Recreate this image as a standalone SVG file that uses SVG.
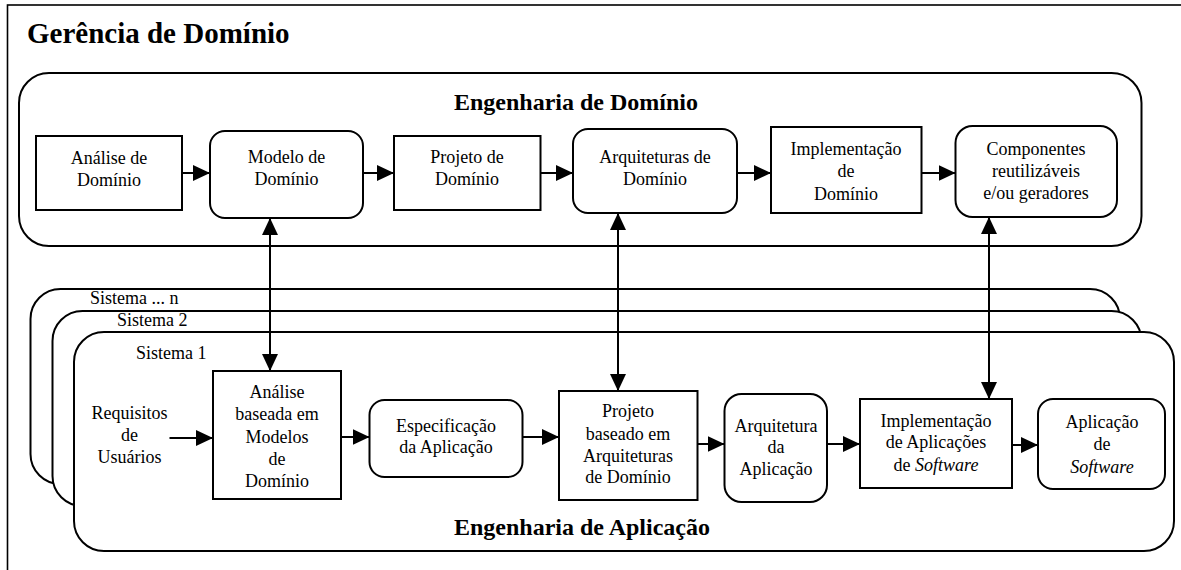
<svg xmlns="http://www.w3.org/2000/svg" width="1181" height="570" viewBox="0 0 1181 570" font-family="Liberation Serif, Times New Roman, serif">
<defs>
<marker id="ah" markerUnits="userSpaceOnUse" markerWidth="17" markerHeight="16" refX="17" refY="8" orient="auto-start-reverse" viewBox="0 0 17 16">
<path d="M0,0 L17,8 L0,16 z" fill="#000"/>
</marker>
<style>
.box{fill:#fff;stroke:#000;stroke-width:2}
.frame{fill:#fff;stroke:#000;stroke-width:1.6}
text{font-family:'Liberation Serif','Times New Roman',serif}
.t{font-size:18px;fill:#000;text-anchor:middle}
.tl{font-size:18px;fill:#000}
.h{font-weight:bold;font-size:24px;fill:#000;text-anchor:middle}
.title{font-weight:bold;font-size:29px;fill:#000}
.c{stroke:#000;stroke-width:2;fill:none;marker-end:url(#ah)}
.cc{stroke:#000;stroke-width:2;fill:none;marker-end:url(#ah);marker-start:url(#ah)}
</style>
</defs>
<rect x="0" y="0" width="1181" height="570" fill="#fff"/>
<g id="gerencia">
<rect class="frame" x="7.5" y="5" width="1185" height="580"/>
<text class="title" x="27" y="43">Gerência de Domínio</text>
</g>
<g id="engenharia-dominio">
<rect class="box" x="19" y="73" width="1122.5" height="173" rx="30" ry="30"/>
<text class="h" x="576" y="110">Engenharia de Domínio</text>
</g>
<g id="analise-dominio">
<rect class="box" x="36" y="136" width="146" height="74"/>
<text class="t" x="109" y="164">Análise de</text>
<text class="t" x="109" y="186">Domínio</text>
</g>
<g id="modelo-dominio">
<rect class="box" x="210" y="131" width="153" height="87" rx="15" ry="15"/>
<text class="t" x="286.5" y="163">Modelo de</text>
<text class="t" x="286.5" y="185">Domínio</text>
</g>
<g id="projeto-dominio">
<rect class="box" x="394" y="136" width="146.5" height="74"/>
<text class="t" x="467" y="163">Projeto de</text>
<text class="t" x="467" y="185">Domínio</text>
</g>
<g id="arquiteturas-dominio">
<rect class="box" x="573" y="129" width="164" height="84" rx="15" ry="15"/>
<text class="t" x="655" y="163">Arquiteturas de</text>
<text class="t" x="655" y="185">Domínio</text>
</g>
<g id="implementacao-dominio">
<rect class="box" x="771" y="127" width="150.5" height="86"/>
<text class="t" x="846" y="155">Implementação</text>
<text class="t" x="846" y="177">de</text>
<text class="t" x="846" y="200">Domínio</text>
</g>
<g id="componentes">
<rect class="box" x="955.5" y="126" width="161.5" height="91" rx="17" ry="17"/>
<text class="t" x="1036" y="155">Componentes</text>
<text class="t" x="1036" y="177">reutilizáveis</text>
<text class="t" x="1036" y="199">e/ou geradores</text>
</g>
<g id="sistema-n">
<rect class="box" x="30.5" y="289" width="1089.5" height="195" rx="30" ry="30"/>
<text class="tl" x="90" y="304">Sistema ... n</text>
</g>
<g id="sistema-2">
<rect class="box" x="52.5" y="311" width="1089" height="195" rx="30" ry="30"/>
<text class="tl" x="117" y="326">Sistema 2</text>
</g>
<g id="sistema-1">
<rect class="box" x="74" y="332" width="1100" height="219" rx="30" ry="30"/>
<text class="tl" x="136" y="359">Sistema 1</text>
<text class="h" x="582" y="535">Engenharia de Aplicação</text>
</g>
<g id="requisitos">
<text class="t" x="129.5" y="419">Requisitos</text>
<text class="t" x="129.5" y="441">de</text>
<text class="t" x="129.5" y="463">Usuários</text>
</g>
<g id="analise-baseada">
<rect class="box" x="213" y="371" width="128" height="128"/>
<text class="t" x="277" y="398">Análise</text>
<text class="t" x="277" y="420">baseada em</text>
<text class="t" x="277" y="443">Modelos</text>
<text class="t" x="277" y="465">de</text>
<text class="t" x="277" y="487">Domínio</text>
</g>
<g id="especificacao">
<rect class="box" x="369.5" y="400" width="153" height="77" rx="15" ry="15"/>
<text class="t" x="446" y="432">Especificação</text>
<text class="t" x="446" y="453">da Aplicação</text>
</g>
<g id="projeto-baseado">
<rect class="box" x="559" y="391" width="138.5" height="109"/>
<text class="t" x="628" y="417">Projeto</text>
<text class="t" x="628" y="440">baseado em</text>
<text class="t" x="628" y="462">Arquiteturas</text>
<text class="t" x="628" y="483">de Domínio</text>
</g>
<g id="arquitetura-aplicacao">
<rect class="box" x="724.5" y="394" width="102.5" height="108" rx="17" ry="17"/>
<text class="t" x="776" y="432">Arquitetura</text>
<text class="t" x="776" y="453">da</text>
<text class="t" x="776" y="475">Aplicação</text>
</g>
<g id="implementacao-aplicacoes">
<rect class="box" x="860" y="399" width="152" height="89"/>
<text class="t" x="936" y="427">Implementação</text>
<text class="t" x="936" y="448">de Aplicações</text>
<text class="t" x="936" y="471">de <tspan font-style="italic">Software</tspan></text>
</g>
<g id="aplicacao-software">
<rect class="box" x="1038" y="399" width="127" height="90" rx="15" ry="15"/>
<text class="t" x="1102" y="428">Aplicação</text>
<text class="t" x="1102" y="450">de</text>
<text class="t" x="1102" y="473" font-style="italic">Software</text>
</g>
<g id="connectors">
<line class="c" x1="182" y1="173" x2="210" y2="173"/>
<line class="c" x1="363" y1="173" x2="394" y2="173"/>
<line class="c" x1="540.5" y1="173" x2="573" y2="173"/>
<line class="c" x1="737" y1="173" x2="771" y2="173"/>
<line class="c" x1="921.5" y1="173" x2="955.5" y2="173"/>
<line class="cc" x1="270" y1="218" x2="270" y2="371"/>
<line class="cc" x1="618" y1="213" x2="618" y2="391"/>
<line class="cc" x1="989" y1="217" x2="989" y2="399"/>
<line class="c" x1="169.5" y1="438" x2="213" y2="438"/>
<line class="c" x1="341" y1="437" x2="369.5" y2="437"/>
<line class="c" x1="522.5" y1="437" x2="559" y2="437"/>
<line class="c" x1="697.5" y1="444" x2="724.5" y2="444"/>
<line class="c" x1="827" y1="444" x2="860" y2="444"/>
<line class="c" x1="1012" y1="445" x2="1038" y2="445"/>
</g>
</svg>
